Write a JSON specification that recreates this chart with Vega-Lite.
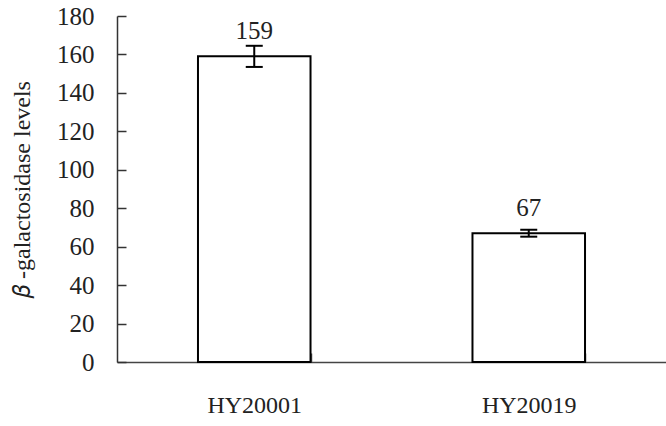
{
  "$schema": "https://vega.github.io/schema/vega-lite/v6.json",
  "width": 549,
  "height": 346,
  "autosize": "none",
  "padding": {"left": 117, "top": 16, "right": 0, "bottom": 64},
  "background": "white",
  "config": {
    "view": {"stroke": null},
    "font": "Liberation Serif",
    "style": {
      "guide-label": {"font": "Liberation Serif", "fill": "#222"},
      "guide-title": {"font": "Liberation Serif", "fill": "#222", "fontWeight": "normal"}
    },
    "axis": {"grid": false, "labelFont": "Liberation Serif", "titleFont": "Liberation Serif", "labelColor": "#222", "titleColor": "#222", "titleFontWeight": "normal", "labelOverlap": false},
    "axisY": {
      "tickCount": 9,
      "labelFont": "Liberation Serif",
      "titleFont": "Liberation Serif",
      "titleFontSize": 24,
      "titlePadding": 22,
      "labelFontSize": 25,
      "labelPadding": 32,
      "labelBaseline": "middle",
      "labelOverlap": false,
      "ticks": true,
      "tickSize": -9,
      "tickColor": "#333",
      "tickWidth": 1.5,
      "domainColor": "#333",
      "domainWidth": 1.5
    },
    "axisX": {
      "labelAngle": 0,
      "labelFont": "Liberation Serif",
      "labelFontSize": 24,
      "labelPadding": 40,
      "tickBand": "extent",
      "ticks": true,
      "tickSize": -9,
      "tickColor": "#555",
      "tickWidth": 1.5,
      "domainColor": "#444",
      "domainWidth": 1.5
    }
  },
  "data": {
    "values": [
      {"strain": "HY20001", "value": 159, "lo": 153.5, "hi": 164.5},
      {"strain": "HY20019", "value": 67, "lo": 65.2, "hi": 68.8}
    ]
  },
  "encoding": {
    "x": {
      "field": "strain",
      "type": "nominal",
      "sort": null,
      "scale": {"paddingInner": 0.59, "paddingOuter": 0.295},
      "axis": {"title": null, "labelFont": "Liberation Serif"}
    }
  },
  "layer": [
    {
      "mark": {"type": "bar", "fill": "white", "stroke": "black", "strokeWidth": 2},
      "encoding": {
        "y": {
          "field": "value",
          "type": "quantitative",
          "scale": {"domain": [0, 180], "nice": false},
          "axis": {"title": "𝛽 -galactosidase levels", "labelFont": "Liberation Serif", "titleFont": "Liberation Serif"}
        }
      }
    },
    {
      "mark": {"type": "rule", "stroke": "black", "strokeWidth": 2},
      "encoding": {
        "y": {"field": "lo", "type": "quantitative"},
        "y2": {"field": "hi"}
      }
    },
    {
      "mark": {"type": "tick", "color": "black", "size": 17, "thickness": 2, "opacity": 1},
      "encoding": {"y": {"field": "lo", "type": "quantitative"}}
    },
    {
      "mark": {"type": "tick", "color": "black", "size": 17, "thickness": 2, "opacity": 1},
      "encoding": {"y": {"field": "hi", "type": "quantitative"}}
    },
    {
      "mark": {"type": "text", "baseline": "alphabetic", "dy": -17, "fontSize": 25, "font": "Liberation Serif", "color": "#222"},
      "encoding": {
        "y": {"field": "value", "type": "quantitative"},
        "text": {"field": "value", "type": "quantitative"}
      }
    }
  ]
}
